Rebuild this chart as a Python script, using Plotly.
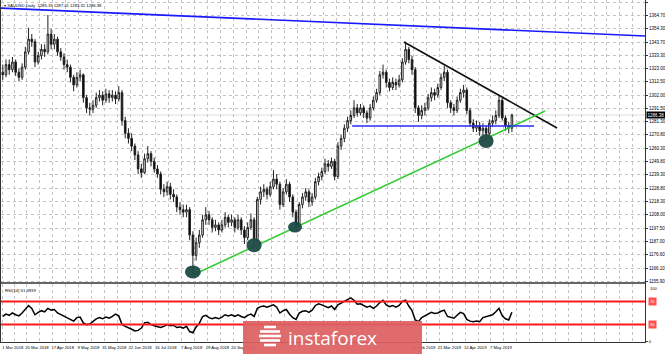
import plotly.graph_objects as go

# ---------------- data (XAUUSD daily, each candle = 2 trading days) ----------------
OPEN = [1320,1318,1326,1322,1328,1320,1316,1324,1336,1346,1344,1328,1333,1338,1336,1350,1342,1346,1336,1332,
        1326,1324,1316,1310,1316,1318,1300,1292,1291,1294,1300,1302,1298,1303,1300,1302,1299,1304,1282,1272,
        1268,1262,1255,1244,1241,1252,1256,1250,1244,1240,1228,1226,1230,1224,1222,1214,1212,1210,1212,1192,
        1176,1186,1192,1204,1208,1204,1198,1200,1196,1200,1206,1202,1204,1198,1204,1196,1190,1198,1204,1188,
        1220,1226,1228,1224,1230,1236,1232,1216,1226,1232,1222,1210,1200,1216,1222,1226,1218,1222,1234,1238,
        1242,1248,1246,1250,1238,1262,1268,1276,1282,1286,1292,1288,1292,1288,1284,1292,1298,1304,1318,1320,
        1312,1308,1312,1310,1314,1328,1338,1330,1322,1292,1286,1290,1292,1300,1304,1302,1308,1316,1320,1296,
        1292,1290,1298,1304,1306,1290,1280,1276,1278,1274,1276,1272,1280,1282,1286,1298,1284,1278,1276]
HIGH = [1326,1330,1330,1332,1330,1323,1327,1340,1355,1350,1346,1336,1342,1342,1365,1354,1350,1348,1339,1335,
        1330,1326,1318,1320,1322,1319,1302,1296,1298,1304,1306,1305,1307,1306,1306,1305,1309,1306,1285,1276,
        1272,1264,1258,1248,1256,1262,1258,1253,1247,1242,1232,1234,1233,1228,1224,1218,1216,1216,1214,1195,
        1190,1196,1208,1214,1211,1206,1204,1202,1204,1210,1208,1208,1206,1208,1206,1199,1202,1209,1206,1222,
        1230,1232,1230,1234,1243,1240,1234,1229,1236,1234,1224,1212,1218,1225,1229,1228,1225,1237,1241,1245,
        1252,1251,1253,1252,1265,1271,1279,1285,1290,1298,1295,1295,1294,1290,1295,1301,1307,1321,1326,1322,
        1315,1316,1315,1318,1331,1344,1340,1333,1324,1294,1294,1296,1303,1308,1307,1311,1319,1325,1322,1298,
        1295,1301,1307,1310,1308,1292,1283,1282,1281,1280,1278,1283,1286,1290,1302,1300,1286,1281,1287.41]
LOW = [1314,1316,1318,1320,1317,1313,1314,1322,1334,1340,1324,1326,1330,1332,1334,1338,1338,1333,1329,1322,
       1320,1312,1305,1308,1313,1296,1288,1286,1288,1292,1297,1294,1296,1296,1297,1295,1297,1278,1268,1264,
       1258,1251,1240,1237,1240,1249,1246,1241,1237,1224,1222,1223,1220,1218,1210,1208,1206,1206,1188,1161,
       1172,1182,1190,1200,1200,1194,1195,1192,1194,1198,1198,1199,1194,1196,1192,1185,1188,1196,1182,1186,
       1216,1222,1220,1222,1228,1228,1212,1214,1224,1218,1206,1196,1198,1213,1219,1214,1215,1220,1231,1235,
       1240,1242,1244,1235,1236,1259,1265,1273,1279,1284,1285,1286,1284,1280,1282,1290,1296,1302,1315,1308,
       1305,1306,1306,1308,1312,1326,1327,1318,1288,1281,1283,1286,1290,1297,1298,1300,1306,1313,1292,1288,
       1286,1288,1296,1300,1287,1277,1273,1273,1270,1271,1266,1270,1277,1279,1284,1282,1274,1272,1273]
CLOSE = [1318,1326,1322,1328,1320,1316,1324,1336,1346,1344,1328,1333,1338,1336,1350,1342,1346,1336,1332,1326,
         1324,1316,1310,1316,1318,1300,1292,1291,1294,1300,1302,1298,1303,1300,1302,1299,1304,1282,1272,1268,
         1262,1255,1244,1241,1252,1256,1250,1244,1240,1228,1226,1230,1224,1222,1214,1212,1210,1212,1192,1176,
         1186,1192,1204,1208,1204,1198,1200,1196,1200,1206,1202,1204,1198,1204,1196,1190,1198,1204,1188,1220,
         1226,1228,1224,1230,1236,1232,1216,1226,1232,1222,1210,1200,1216,1222,1226,1218,1222,1234,1238,1242,
         1248,1246,1250,1238,1262,1268,1276,1282,1286,1292,1288,1292,1288,1284,1292,1298,1304,1318,1320,1312,
         1308,1312,1310,1314,1328,1338,1330,1322,1292,1286,1290,1292,1300,1304,1302,1308,1316,1320,1296,1292,
         1290,1298,1304,1306,1290,1280,1276,1278,1274,1276,1272,1280,1282,1286,1298,1284,1278,1276,1286.38]
RSI = [44,48,46,50,47,45,50,56,63,58,47,51,54,52,58,55,56,50,47,44,
       42,38,36,42,43,33,30,31,36,40,42,40,43,41,44,48,45,30,27,25,
       22,19,20,24,33,34,30,28,27,25,27,30,28,29,25,26,24,27,18,16,
       26,32,44,46,42,40,42,40,43,47,45,47,44,47,44,42,46,48,44,58,
       61,62,60,62,64,60,50,54,56,48,42,39,50,53,54,51,55,63,66,64,
       62,59,62,56,64,67,70,72,76,72,65,66,63,60,62,58,62,68,72,64,
       61,63,60,63,70,72,62,54,38,35,42,45,48,51,49,50,53,55,44,42,
       41,46,51,49,39,36,35,36,35,42,44,46,47,52,58,45,40,38,51.3939]
BAR_STEP = 2   # trading days per candle

PRICE_TICKS = [1375.20, 1364.70, 1354.30, 1343.70, 1333.30, 1323.00, 1312.50, 1302.00, 1291.50, 1281.30,
               1270.80, 1260.30, 1249.80, 1239.30, 1228.80, 1218.30, 1208.00, 1197.50, 1187.00, 1176.60,
               1166.10, 1155.90]
# date labels; those hidden behind the watermark in the reference are left blank
DATE_LABELS = ["1 Mar 2018", "20 Mar 2018", "17 Apr 2018", "9 May 2018", "31 May 2018", "22 Jun 2018",
               "16 Jul 2018", "7 Aug 2018", "29 Aug 2018", "20 Sep 2018", "", "",
               "", "", "", "", "27 Feb 2019", "21 Mar 2019",
               "12 Apr 2019", "7 May 2019"]
DATE_POS = [0] + [15 + 16 * k for k in range(19)]   # trading-day index of each label

# drawn analysis objects (trading-day index, price)
BLUE_LONG = [(-1.1, 1370.4), (398.6, 1348.5)]
BLACK_TREND = [(249.0, 1343.8), (344.0, 1276.2)]
GREEN_TREND = [(118.0, 1160.6), (336.6, 1289.5)]
BLUE_SUPPORT = [(216.8, 1277.7), (329.7, 1277.7)]
CIRCLES = [(118, 1163, 16, 13), (156, 1184, 15, 14), (181.4, 1198.3, 14, 11), (300, 1266, 15, 14)]
HEADER = "XAUUSD,Daily  1285.19 1287.41 1283.31 1286.38"

X = [BAR_STEP * j for j in range(len(CLOSE))]
XR = [-1.1, 398.6]
FONT = "Liberation Sans"

fig = go.Figure()
fig.add_trace(go.Candlestick(
    x=X, open=OPEN, high=HIGH, low=LOW, close=CLOSE, xaxis="x", yaxis="y",
    increasing=dict(line=dict(color="#222222", width=1), fillcolor="white"),
    decreasing=dict(line=dict(color="#222222", width=1), fillcolor="black"),
    whiskerwidth=0, showlegend=False, hoverinfo="skip"))
fig.add_trace(go.Scatter(x=X, y=RSI, xaxis="x2", yaxis="y2", mode="lines",
                         line=dict(color="black", width=1.5), showlegend=False, hoverinfo="skip"))

grid_vals = [0] + list(range(7, 400, 8))
grid_text = []
for v in grid_vals:
    grid_text.append(DATE_LABELS[DATE_POS.index(v)] if v in DATE_POS else "")

shapes = []
# RSI levels
for lvl in (70, 30):
    shapes.append(dict(type="line", xref="x2 domain", yref="y2", x0=0, x1=1, y0=lvl, y1=lvl,
                       line=dict(color="#ff1a1a", width=2)))
# trend lines
for pts, col in ((BLUE_LONG, "#1a1aff"), (BLACK_TREND, "#111111"), (GREEN_TREND, "#33cc33"),
                 (BLUE_SUPPORT, "#2a2aff")):
    shapes.append(dict(type="line", xref="x", yref="y", x0=pts[0][0], y0=pts[0][1],
                       x1=pts[1][0], y1=pts[1][1], line=dict(color=col, width=1.6)))
# highlight circles
for cx, cy, w, h in CIRCLES:
    shapes.append(dict(type="circle", xref="x", yref="y", xsizemode="pixel", ysizemode="pixel",
                       xanchor=cx, yanchor=cy, x0=-w / 2, x1=w / 2, y0=-h / 2, y1=h / 2,
                       fillcolor="#1d4a46", line=dict(width=0), opacity=0.95, layer="above"))
# panel separator
shapes.append(dict(type="line", xref="paper", yref="paper", x0=0, x1=1, y0=0.1725, y1=0.1725,
                   line=dict(color="#666666", width=2)))
# current price line
shapes.append(dict(type="line", xref="x domain", yref="y", x0=0, x1=1, y0=CLOSE[-1], y1=CLOSE[-1],
                   line=dict(color="#dddddd", width=1), layer="below"))
# watermark box
shapes.append(dict(type="rect", xref="paper", yref="paper", x0=0.3758, x1=0.6537, y0=-0.04, y1=0.0614,
                   fillcolor="rgba(222,96,98,0.93)", line=dict(width=0), layer="above"))
# watermark logo: striped globe (pixel-sized, anchored in paper space)
LOGO_STRIPES = [(-9, 6), (-4.5, 10), (0, 11), (4.5, 10), (9, 6)]
for dy, hw in LOGO_STRIPES:
    shapes.append(dict(type="line", xref="paper", yref="paper", xsizemode="pixel", ysizemode="pixel",
                       xanchor=(270 - 1) / 644, yanchor=(342 - 336) / 342,
                       x0=-hw, x1=hw, y0=-dy, y1=-dy,
                       line=dict(color="white", width=2.6), layer="above"))

annotations = [
    dict(text="▾ " + HEADER, xref="paper", yref="paper", x=0.002, y=0.998, xanchor="left", yanchor="top",
         showarrow=False, font=dict(family=FONT, size=4.2, color="black")),
    dict(text="RSI(14) " + str(RSI[-1]), xref="paper", yref="paper", x=0.003, y=0.164, xanchor="left",
         yanchor="top", showarrow=False, font=dict(family=FONT, size=4.2, color="black")),
    dict(text="{:.2f}".format(CLOSE[-1]), xref="paper", yref="y", x=1.002, y=CLOSE[-1], xanchor="left",
         yanchor="middle", showarrow=False, bgcolor="black", borderpad=0.5,
         font=dict(family=FONT, size=4.5, color="white")),
    dict(text="100", xref="paper", yref="y2", x=1.004, y=100, xanchor="left", yanchor="top",
         showarrow=False, font=dict(family=FONT, size=4, color="black")),
    dict(text="70", xref="paper", yref="y2", x=1.004, y=70, xanchor="left", yanchor="middle",
         showarrow=False, bgcolor="#ff5050", font=dict(family=FONT, size=4, color="white")),
    dict(text="30", xref="paper", yref="y2", x=1.004, y=30, xanchor="left", yanchor="middle",
         showarrow=False, bgcolor="#ff5050", font=dict(family=FONT, size=4, color="white")),
    dict(text="instaforex", xref="paper", yref="paper", x=0.5140, y=0.012, xanchor="center",
         yanchor="middle", showarrow=False, font=dict(family="Open Sans", size=19, color="white")),
]

axis_grid = dict(showgrid=True, gridcolor="#c4c4c4", griddash="dot", gridwidth=1, zeroline=False)
fig.update_layout(
    width=665, height=354, margin=dict(l=1, r=20, t=0, b=12),
    paper_bgcolor="white", plot_bgcolor="white", showlegend=False,
    font=dict(family=FONT, size=4.5, color="black"),
    xaxis=dict(domain=[0, 1], anchor="y", range=XR, tickvals=grid_vals, showticklabels=False,
               rangeslider=dict(visible=False), showline=True, linecolor="#333", mirror=True, ticks="",
               automargin=False, **axis_grid),
    yaxis=dict(domain=[0.1754, 1], anchor="x", range=[1155.11, 1376.77], side="right",
               tickvals=PRICE_TICKS, ticktext=["{:.2f}".format(v) for v in PRICE_TICKS],
               ticks="outside", ticklen=2, tickcolor="#333", tickfont=dict(size=4.5),
               showline=True, linecolor="#333", mirror=True, automargin=False, **axis_grid),
    xaxis2=dict(domain=[0, 1], anchor="y2", range=XR, matches="x", tickvals=grid_vals, ticktext=grid_text,
                ticks="", tickfont=dict(size=4.2), tickangle=0, ticklabelshift=10, ticklabelstandoff=1,
                showline=True, linecolor="#333", mirror=True, automargin=False, **axis_grid),
    yaxis2=dict(domain=[0, 0.1696], anchor="x2", range=[0, 100], side="right",
                tickvals=[0], ticktext=["0"], ticks="outside", ticklen=2,
                tickfont=dict(size=4.2), showgrid=False, zeroline=False, automargin=False,
                showline=True, linecolor="#333", mirror=True),
    shapes=shapes, annotations=annotations,
)
fig.write_html("out.html")
